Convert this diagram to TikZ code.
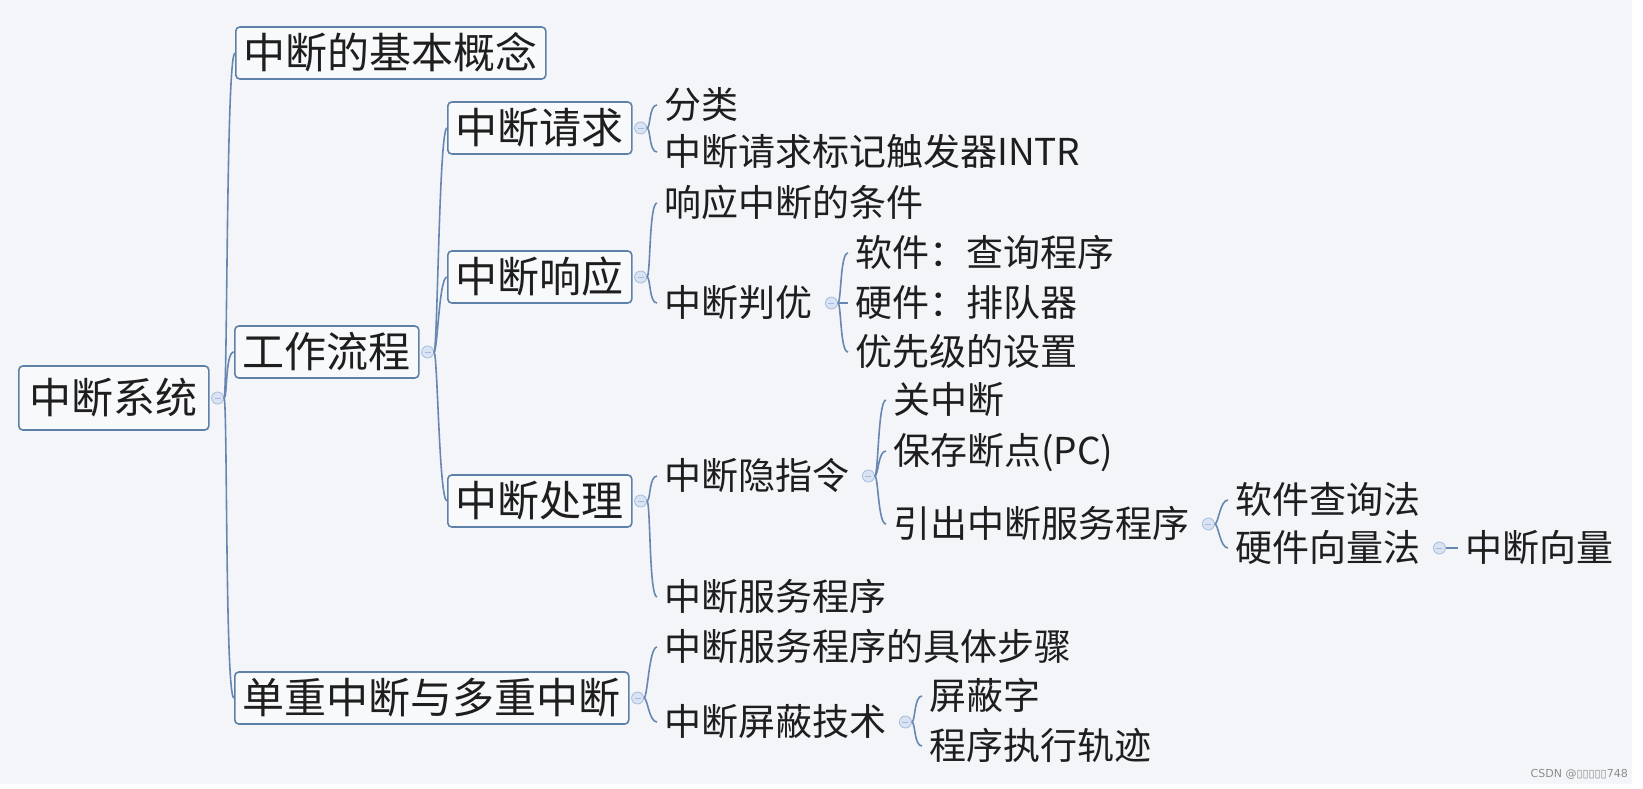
\documentclass[tikz,border=0pt]{standalone}
\usepackage{fontspec}
\setmainfont{Noto Sans CJK SC}
\newfontfamily\markfont{DejaVu Sans}
\definecolor{bgcol}{HTML}{F3F5F9}
\definecolor{boxline}{HTML}{5F80A8}
\definecolor{linecol}{HTML}{6887B0}
\definecolor{mkfill}{HTML}{DAE3F3}
\definecolor{mkline}{HTML}{A6BBDB}
\definecolor{inkcol}{HTML}{1E1E1E}

\tikzset{
  topic/.style={draw=boxline,line width=1.6pt,rounded corners=4pt,fill=white!40!bgcol,
    font=\fontsize{42}{48}\selectfont,text=inkcol,inner xsep=8pt,inner ysep=6pt,
    text height=35pt,text depth=5pt,anchor=west},
  roottopic/.style={topic,inner xsep=11pt,inner ysep=12pt},
  leaf/.style={font=\fontsize{37}{44}\selectfont,text=inkcol,inner xsep=7pt,inner ysep=2pt,
    text height=31pt,text depth=4pt,anchor=west},
  conn/.style={draw=linecol,line width=1.6pt},
  mk/.style={circle,draw=mkline,fill=mkfill,line width=0.8pt,minimum size=12pt,inner sep=0pt,
    path picture={\draw[mkline,line width=1pt] ([xshift=-3pt]path picture bounding box.center)
      -- ([xshift=3pt]path picture bounding box.center);}},
}

\begin{document}
\begin{tikzpicture}[x=1pt,y=-1pt]
  % background
  \fill[bgcol] (0,0) rectangle (1643,788);
  \fill[white] (1632,0) rectangle (1643,788);
  \fill[white] (0,784) rectangle (1643,788);

  % boxed topics
  \node[roottopic] (root) at (18,398) {中断系统};
  \node[topic] (basic) at (235,53) {中断的基本概念};
  \node[topic] (flow) at (234,352) {工作流程};
  \node[topic] (multi) at (234,698) {单重中断与多重中断};
  \node[topic] (req) at (447,128) {中断请求};
  \node[topic] (resp) at (447,277) {中断响应};
  \node[topic] (proc) at (447,501) {中断处理};

  % plain topics
  \node[leaf] (kind) at (657,105) {分类};
  \node[leaf] (intr) at (657,152) {中断请求标记触发器INTR};
  \node[leaf] (cond) at (657,203) {响应中断的条件};
  \node[leaf] (judge) at (657,303) {中断判优};
  \node[leaf] (soft) at (848,253) {软件：查询程序};
  \node[leaf] (hard) at (848,303) {硬件：排队器};
  \node[leaf] (prio) at (848,352) {优先级的设置};
  \node[leaf] (hide) at (657,476) {中断隐指令};
  \node[leaf] (srv) at (657,597) {中断服务程序};
  \node[leaf] (cli) at (886,400) {关中断};
  \node[leaf] (savepc) at (886,451) {保存断点(PC)};
  \node[leaf] (lead) at (886,524) {引出中断服务程序};
  \node[leaf] (squery) at (1228,500) {软件查询法};
  \node[leaf] (hvec) at (1228,548) {硬件向量法};
  \node[leaf] (ivec) at (1458,548) {中断向量};
  \node[leaf] (steps) at (657,647) {中断服务程序的具体步骤};
  \node[leaf] (mask) at (657,722) {中断屏蔽技术};
  \node[leaf] (mword) at (922,696) {屏蔽字};
  \node[leaf] (trace) at (922,746) {程序执行轨迹};

  % collapse markers
  \node[mk] (m-root) at ([xshift=8pt]root.east) {};
  \foreach \p in {flow,req,resp,proc,multi}
    \node[mk] (m-\p) at ([xshift=8pt]\p.east) {};
  \foreach \p in {judge,hide,lead,hvec,mask}
    \node[mk] (m-\p) at ([xshift=12pt]\p.east) {};

  % branches
  \foreach \c in {basic,flow,multi}
    \draw[conn] (m-root) .. controls +(10,0) and +(-9,0) .. (\c.west);
  \foreach \c in {req,resp,proc}
    \draw[conn] (m-flow) .. controls +(10,0) and +(-8,0) .. (\c.west);
  \foreach \c in {kind,intr}
    \draw[conn] (m-req) .. controls +(10,0) and +(-8,0) .. (\c.west);
  \foreach \c in {cond,judge}
    \draw[conn] (m-resp) .. controls +(10,0) and +(-8,0) .. (\c.west);
  \foreach \c in {soft,hard,prio}
    \draw[conn] (m-judge) .. controls +(10,0) and +(-8,0) .. (\c.west);
  \foreach \c in {hide,srv}
    \draw[conn] (m-proc) .. controls +(10,0) and +(-8,0) .. (\c.west);
  \foreach \c in {cli,savepc,lead}
    \draw[conn] (m-hide) .. controls +(10,0) and +(-8,0) .. (\c.west);
  \foreach \c in {squery,hvec}
    \draw[conn] (m-lead) .. controls +(10,0) and +(-8,0) .. (\c.west);
  \draw[conn] (m-hvec) -- (ivec.west);
  \foreach \c in {steps,mask}
    \draw[conn] (m-multi) .. controls +(10,0) and +(-8,0) .. (\c.west);
  \foreach \c in {mword,trace}
    \draw[conn] (m-mask) .. controls +(10,0) and +(-8,0) .. (\c.west);

  % watermark
  \node[anchor=base east,inner sep=0pt,text=black!45,font=\markfont\fontsize{11}{13}\selectfont]
    (wm) at (1628,777) {CSDN @▯▯▯▯▯748};
\end{tikzpicture}
\end{document}
